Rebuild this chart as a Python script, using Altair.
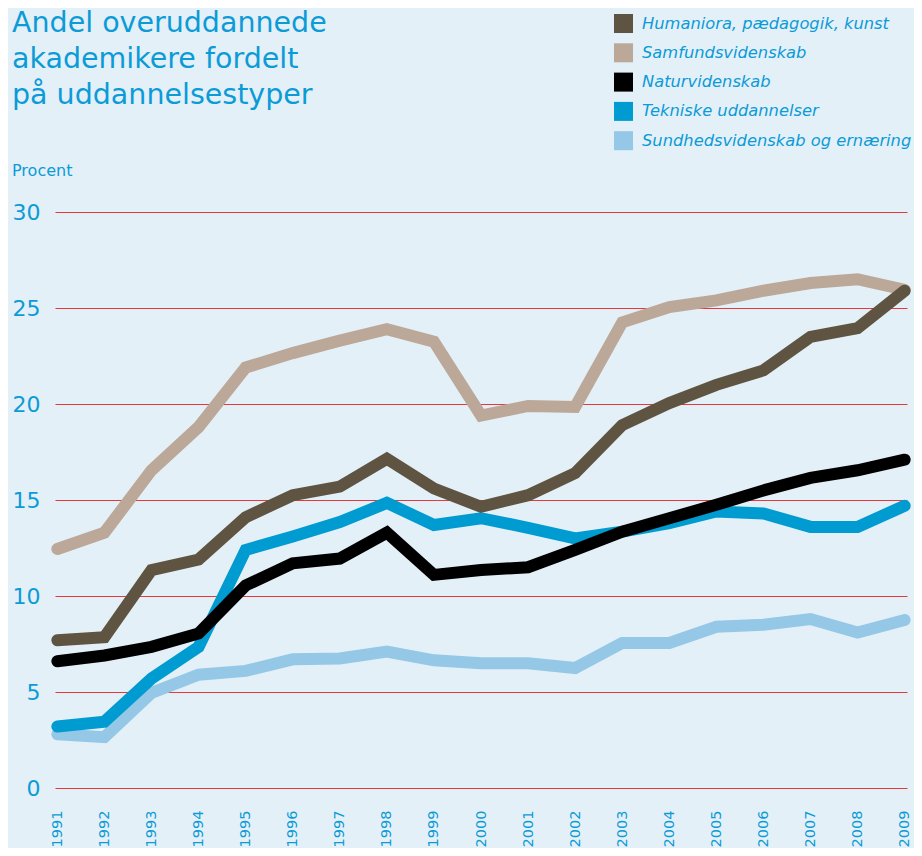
import altair as alt
import pandas as pd

years = list(range(1991, 2010))

series_names = [
    "Humaniora, pædagogik, kunst",
    "Samfundsvidenskab",
    "Naturvidenskab",
    "Tekniske uddannelser",
    "Sundhedsvidenskab og ernæring",
]
series_colors = ["#5e5441", "#bca898", "#000000", "#009bd0", "#95c8e6"]

humaniora = [7.7, 7.85, 11.35, 11.9, 14.1, 15.25, 15.7, 17.15, 15.6, 14.65,
             15.25, 16.4, 18.9, 20.05, 21.0, 21.75, 23.5, 23.95, 25.9]
samfund = [12.45, 13.3, 16.55, 18.8, 21.9, 22.65, 23.3, 23.9, 23.25, 19.4,
           19.9, 19.85, 24.25, 25.05, 25.4, 25.9, 26.3, 26.5, 25.95]
natur = [6.6, 6.9, 7.35, 8.05, 10.55, 11.7, 11.95, 13.3, 11.1, 11.35,
         11.5, 12.4, 13.35, 14.05, 14.75, 15.5, 16.15, 16.55, 17.1]
teknisk = [3.2, 3.45, 5.7, 7.35, 12.4, 13.1, 13.85, 14.85, 13.7, 14.05,
           13.55, 13.0, 13.35, 13.8, 14.4, 14.3, 13.6, 13.6, 14.7]
sundhed = [2.8, 2.65, 4.95, 5.9, 6.1, 6.7, 6.75, 7.1, 6.65, 6.5,
           6.5, 6.25, 7.55, 7.55, 8.4, 8.5, 8.8, 8.1, 8.75]

y_ticks = [0, 5, 10, 15, 20, 25, 30]

title_lines = ["Andel overuddannede", "akademikere fordelt", "på uddannelsestyper"]
unit_label = "Procent"

# draw order: bottom to top
draw_order = [
    (series_names[4], sundhed),
    (series_names[3], teknisk),
    (series_names[2], natur),
    (series_names[1], samfund),
    (series_names[0], humaniora),
]
rows = []
for name, vals in draw_order:
    for yr, v in zip(years, vals):
        rows.append({"year": str(yr), "value": v, "serie": name})
df = pd.DataFrame(rows)

BLUE = "#0b9bd7"
FONT = "DejaVu Sans"

x_enc = alt.X(
    "year:O",
    sort=[str(y) for y in years],
    scale=alt.Scale(type="point", padding=0.05),
    axis=alt.Axis(
        title=None, labelAngle=-90, labelFontSize=14.5, labelColor=BLUE,
        labelFont=FONT, labelPadding=22, ticks=False, domain=False,
        grid=False, labelAlign="right", labelBaseline="middle",
    ),
)
y_enc = alt.Y(
    "value:Q",
    scale=alt.Scale(domain=[0, 30], nice=False, zero=True),
    axis=alt.Axis(
        title=None, values=y_ticks, labelFontSize=22, labelColor=BLUE,
        labelFont=FONT, labelPadding=15, ticks=False, domain=False,
        grid=True, gridColor="#e8373d", gridWidth=1, gridOpacity=1,
    ),
)
color_scale = alt.Scale(domain=series_names, range=series_colors)

legend_layer = alt.Chart(df).mark_point(
    shape="square", filled=True, size=0, opacity=0
).encode(
    x=x_enc,
    y=y_enc,
    color=alt.Color(
        "serie:N",
        scale=color_scale,
        legend=alt.Legend(
            orient="none", legendX=559, legendY=-198, title=None,
            symbolType="square", symbolSize=361, symbolStrokeWidth=0,
            symbolOpacity=1,
            labelFont=FONT, labelFontStyle="italic", labelFontSize=16.3,
            labelColor=BLUE, labelLimit=400, rowPadding=10.3, labelOffset=9,
        ),
    ),
)

lines = alt.Chart(df).mark_line(
    strokeWidth=12, strokeCap="round", strokeJoin="miter"
).encode(
    x=x_enc,
    y=y_enc,
    color=alt.Color("serie:N", scale=color_scale, legend=None),
)

chart = alt.layer(legend_layer, lines).properties(
    width=852,
    height=576,
    title=alt.TitleParams(
        text=title_lines, subtitle=unit_label, anchor="start", frame="group",
        dx=-43, dy=185, fontSize=28.5, lineHeight=36, font=FONT,
        fontWeight="normal", color=BLUE, subtitleFont=FONT,
        subtitleFontSize=16, subtitleColor=BLUE, subtitlePadding=54,
        offset=20,
    ),
    background="#e4f0f8",
    padding={"left": 47, "top": 204, "right": 7, "bottom": 60},
    autosize=alt.AutoSizeParams(type="none"),
).configure_view(stroke=None)

chart.save("out.html", embed_options={"renderer": "svg", "actions": False})
